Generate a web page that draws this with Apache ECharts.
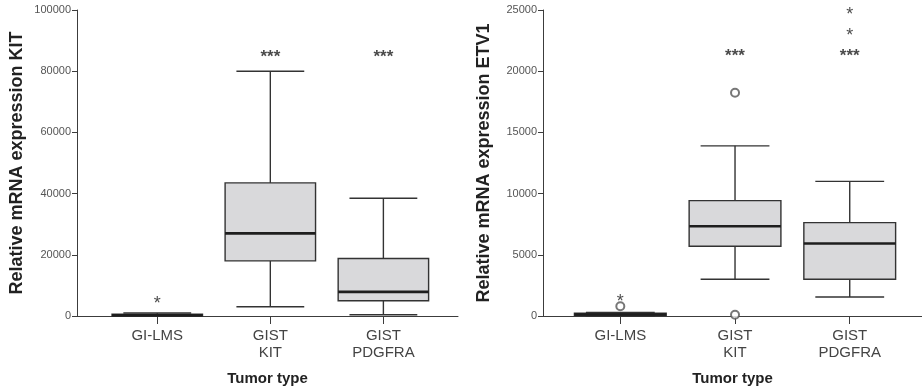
<!DOCTYPE html>
<html><head><meta charset="utf-8">
<script src="https://cdn.jsdelivr.net/npm/echarts@6/dist/echarts.min.js"></script>
<style>html,body{margin:0;padding:0;background:#fff}#c{width:922px;height:391px}</style>
</head><body><div id="c"></div>
<script>
const categories = ['GI-LMS', 'GIST\nKIT', 'GIST\nPDGFRA'];
// [min, Q1, median, Q3, max]
const kitBoxes = [[0, 60, 250, 550, 1000], [3000, 18000, 27000, 43500, 80000], [400, 5000, 7900, 18800, 38500]];
const kitExtremes = [[0, 5300]];
const kitSignif = [[1, 86000], [2, 86000]];
const etv1Boxes = [[0, 40, 120, 230, 280], [3000, 5700, 7330, 9430, 13900], [1550, 3000, 5920, 7630, 11000]];
const etv1Outliers = [[0, 790], [1, 18240], [1, 100]];
const etv1Extremes = [[0, 1470], [2, 23230], [2, 24920]];
const etv1Signif = [[1, 21540], [2, 21540]];
const kitTicks = [0, 20000, 40000, 60000, 80000, 100000];
const etv1Ticks = [0, 5000, 10000, 15000, 20000, 25000];

const FONT = 'Liberation Sans, Arial, sans-serif';
const AX = '#3c3c3c';

function renderBox(params, api) {
  const x = api.value(0);
  const lo = api.coord([x, api.value(1)]);
  const q1 = api.coord([x, api.value(2)]);
  const md = api.coord([x, api.value(3)]);
  const q3 = api.coord([x, api.value(4)]);
  const hi = api.coord([x, api.value(5)]);
  const w = api.size([0.8, 0])[0];
  const cw = api.size([0.6, 0])[0];
  const cx = md[0];
  const ls = { stroke: '#333', lineWidth: 1.4 };
  return {
    type: 'group',
    children: [
      { type: 'line', shape: { x1: cx, y1: hi[1], x2: cx, y2: q3[1] }, style: ls },
      { type: 'line', shape: { x1: cx, y1: q1[1], x2: cx, y2: lo[1] }, style: ls },
      { type: 'line', shape: { x1: cx - cw / 2, y1: hi[1], x2: cx + cw / 2, y2: hi[1] }, style: ls },
      { type: 'line', shape: { x1: cx - cw / 2, y1: lo[1], x2: cx + cw / 2, y2: lo[1] }, style: ls },
      { type: 'rect', shape: { x: cx - w / 2, y: q3[1], width: w, height: Math.max(q1[1] - q3[1], 2) },
        style: { fill: '#d9d9db', stroke: '#333', lineWidth: 1.4 } },
      { type: 'line', shape: { x1: cx - w / 2, y1: md[1], x2: cx + w / 2, y2: md[1] }, style: { stroke: '#1e1e1e', lineWidth: 2.6 } }
    ]
  };
}

function textSeries(idx, data, text, size, bold, offY) {
  return {
    type: 'scatter', xAxisIndex: idx, yAxisIndex: idx, data: data,
    symbol: 'circle', symbolSize: 1, itemStyle: { color: 'rgba(0,0,0,0)' },
    label: { show: true, position: 'inside', formatter: text, fontSize: size, fontWeight: bold ? 'bold' : 'normal',
      color: '#1a1a1a', fontFamily: FONT, offset: [0, offY] },
    silent: true, z: 5
  };
}

function xAxisCfg(idx, min, max) {
  return {
    type: 'value', gridIndex: idx, min: min, max: max,
    name: 'Tumor type', nameLocation: 'middle', nameGap: 55, nameMoveOverlap: false,
    nameTextStyle: { fontFamily: FONT, fontSize: 15, fontWeight: 'bold', color: '#222' },
    axisLine: { show: true, onZero: false, lineStyle: { color: AX, width: 1 } },
    axisTick: { show: true, customValues: [0, 1, 2], length: 8, lineStyle: { color: AX } },
    axisLabel: { customValues: [0, 1, 2], formatter: v => categories[Math.round(v)], fontFamily: FONT,
      fontSize: 15, lineHeight: 17, color: '#444', margin: 11 },
    splitLine: { show: false }
  };
}

function yAxisCfg(idx, name, ticks, gap) {
  return {
    type: 'value', gridIndex: idx, min: ticks[0], max: ticks[ticks.length - 1], interval: ticks[1] - ticks[0],
    name: name, nameLocation: 'middle', nameGap: gap, nameRotate: 90, nameMoveOverlap: false,
    nameTextStyle: { fontFamily: FONT, fontSize: 18, fontWeight: 'bold', color: '#222' },
    axisLine: { show: true, onZero: false, lineStyle: { color: AX, width: 1 } },
    axisTick: { show: true, length: 5, lineStyle: { color: AX } },
    axisLabel: { fontFamily: FONT, fontSize: 11, color: '#555', margin: 6, formatter: v => String(v) },
    splitLine: { show: false }
  };
}

const chart = echarts.init(document.getElementById('c'), null, { renderer: 'canvas' });
chart.setOption({
  animation: false,
  grid: [
    { left: 77, right: 464, top: 10, bottom: 75 },
    { left: 543, right: 0, top: 10, bottom: 75 }
  ],
  xAxis: [xAxisCfg(0, -0.71, 2.66), xAxisCfg(1, -0.674, 2.63)],
  yAxis: [yAxisCfg(0, 'Relative mRNA expression KIT', kitTicks, 51), yAxisCfg(1, 'Relative mRNA expression ETV1', etv1Ticks, 50)],
  series: [
    { type: 'custom', xAxisIndex: 0, yAxisIndex: 0, renderItem: renderBox, data: kitBoxes.map((b, i) => [i].concat(b)) },
    { type: 'custom', xAxisIndex: 1, yAxisIndex: 1, renderItem: renderBox, data: etv1Boxes.map((b, i) => [i].concat(b)) },
    { type: 'scatter', xAxisIndex: 1, yAxisIndex: 1, data: etv1Outliers, symbol: 'emptyCircle', symbolSize: 8,
      itemStyle: { color: '#555', borderColor: '#555', borderWidth: 0.9 }, z: 4 },
    textSeries(0, kitExtremes, '*', 18, false, 4),
    textSeries(1, etv1Extremes, '*', 18, false, 4),
    textSeries(0, kitSignif, '***', 17, true, 4),
    textSeries(1, etv1Signif, '***', 17, true, 4)
  ]
});
</script></body></html>
